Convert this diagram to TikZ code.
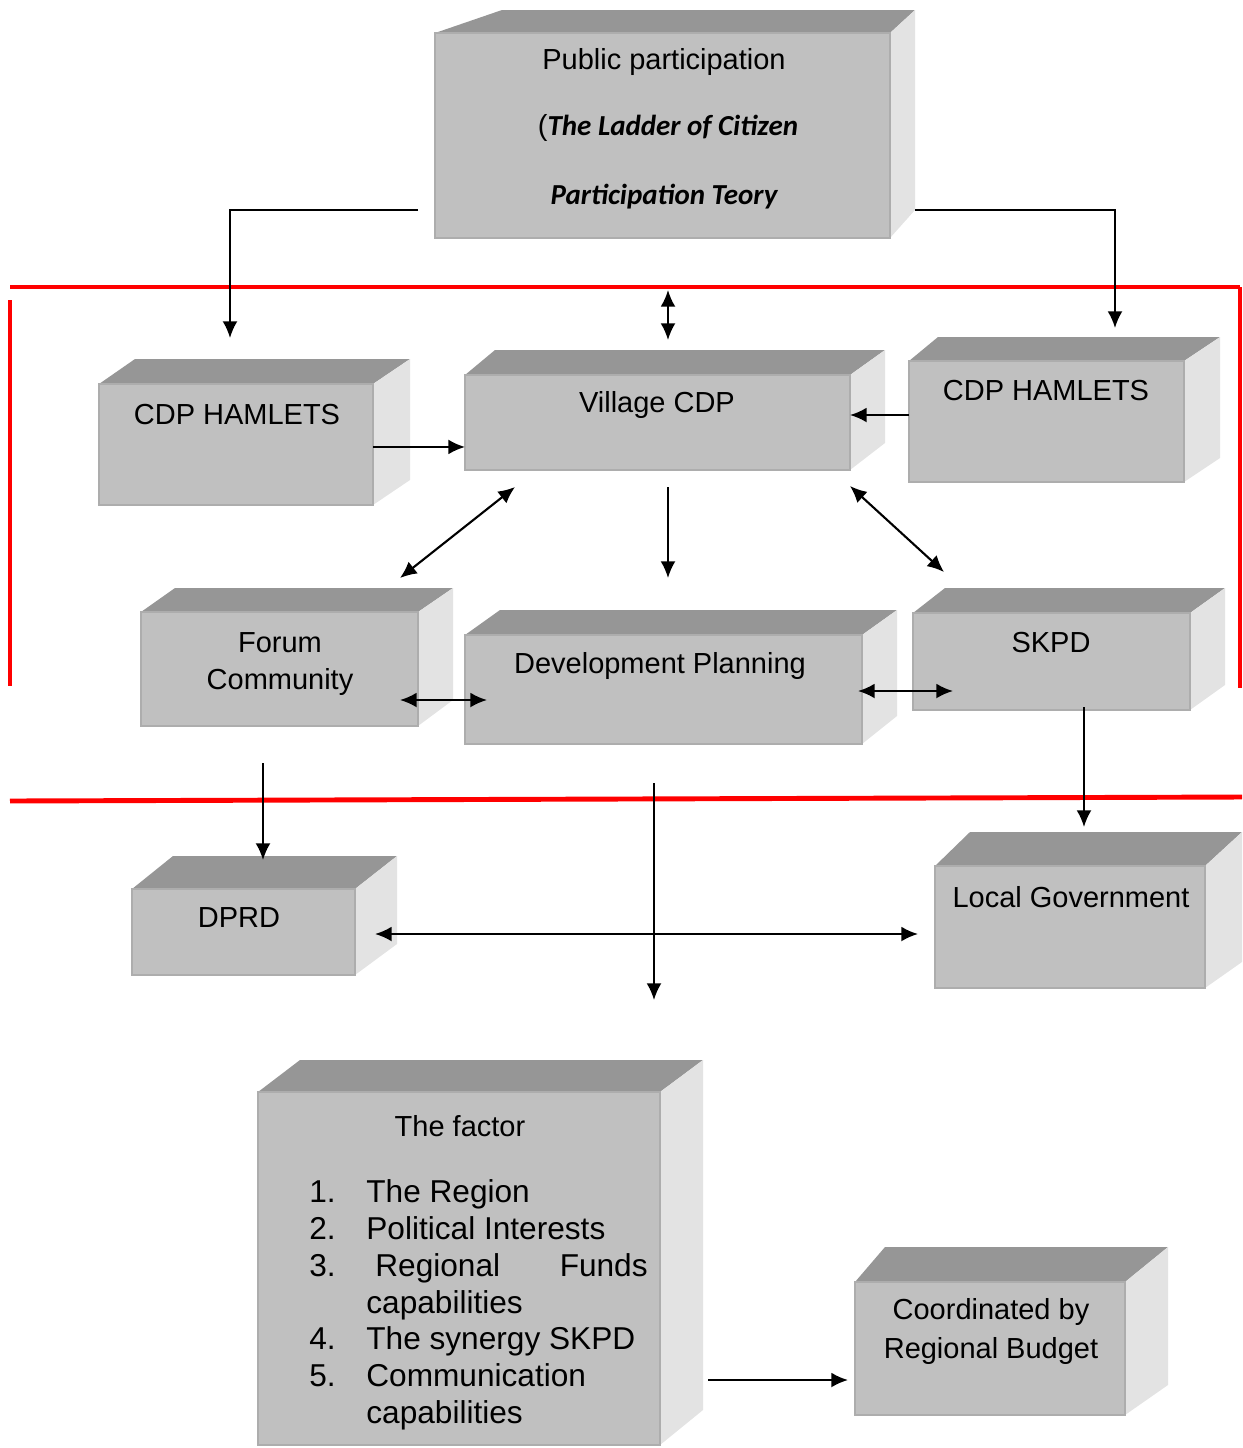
\documentclass[tikz,border=0pt]{standalone}
\usepackage{fontspec}
\setmainfont{Liberation Sans}
\newfontfamily\calibri{Carlito}
\usetikzlibrary{arrows.meta}

\definecolor{frontgray}{HTML}{C0C0C0}
\definecolor{topgray}{HTML}{969696}
\definecolor{sidegray}{HTML}{E3E3E3}
\definecolor{edgegray}{HTML}{ADADAD}
\definecolor{framered}{HTML}{FF0000}

\tikzset{
  front/.style={draw=edgegray, line width=0.6pt, fill=frontgray, inner sep=0pt, outer sep=0pt},
  topface/.style={fill=topgray},
  sideface/.style={fill=sidegray},
  lbl/.style={inner sep=0pt, font=\fontsize{16.5}{19}\selectfont},
  itm/.style={inner sep=0pt, anchor=base west, font=\fontsize{18}{21}\selectfont},
  arr/.style={line width=1.2pt, -{Latex[length=9.5pt,width=8.5pt]}},
  darr/.style={line width=1.2pt, {Latex[length=9.5pt,width=8.5pt]}-{Latex[length=9.5pt,width=8.5pt]}},
  redline/.style={draw=framered, line width=2.8pt}
}

% 3D box: name, front x1, y1, x2, y2, back left x, back right x, back top y, side bottom y
\newcommand{\cuboid}[9]{%
  \fill[topface] (#2,#3) -- (#6,#8) -- (#7,#8) -- (#4,#3) -- cycle;
  \fill[sideface] (#4,#3) -- (#7,#8) -- (#7,#9) -- (#4,#5) -- cycle;
  \node[front, anchor=north west, minimum width={(#4-#2)*0.02cm},
        minimum height={(#5-#3)*0.02cm}] (#1) at (#2,#3) {};
}

\begin{document}
\begin{tikzpicture}[x=0.02cm, y=-0.02cm]
\useasboundingbox (0,0) rectangle (1242,1448);

% boxes
\cuboid{pp}{435}{33}{890}{238}{502}{915}{10}{210}
\cuboid{hamL}{99}{384}{373}{505}{135}{410}{359}{480}
\cuboid{village}{465}{375}{850}{470}{495}{885}{350}{443}
\cuboid{hamR}{909}{361}{1184}{482}{938}{1220}{337}{458}
\cuboid{forum}{141}{612}{418}{726}{175}{453}{588}{700}
\cuboid{dev}{465}{635}{862}{744}{500}{897}{610}{716}
\cuboid{skpd}{913}{613}{1190}{710}{945}{1225}{588}{685}
\cuboid{dprd}{132}{889}{355}{975}{173}{397}{856}{944}
\cuboid{locgov}{935}{866}{1205}{988}{970}{1242}{832}{962}
\cuboid{factor}{258}{1092}{660}{1445}{300}{703}{1060}{1410}
\cuboid{budget}{855}{1282}{1125}{1415}{885}{1168}{1247}{1385}

% texts
\node[lbl] (ppA) at (664,62) {Public participation};
\node[lbl] (ppB) at (668,128) {(\calibri\bfseries\itshape The Ladder of Citizen};
\node[lbl] (ppC) at (664,197) {\calibri\bfseries\itshape Participation Teory};
\node[lbl] (hamLt) at (237,415) {CDP HAMLETS};
\node[lbl] (villaget) at (657,405) {Village CDP};
\node[lbl] (hamRt) at (1046,391) {CDP HAMLETS};
\node[lbl] (forumA) at (280,643) {Forum};
\node[lbl] (forumB) at (280,682) {Community};
\node[lbl] (devt) at (660,666) {Development Planning};
\node[lbl] (skpdt) at (1051,643) {SKPD};
\node[lbl] (dprdt) at (239,918) {DPRD};
\node[lbl] (locgovt) at (1071,897) {Local Government};
\node[lbl] (factort) at (460,1126) {The factor};
\node[lbl] (budgetA) at (991,1312) {Coordinated by};
\node[lbl] (budgetB) at (991,1351) {Regional Budget};

% factor list
\node[itm] (n1) at (309,1202) {1.};
\node[itm] (i1) at (366,1202) {The Region};
\node[itm] (n2) at (309,1239) {2.};
\node[itm] (i2) at (366,1239) {Political Interests};
\node[itm] (n3) at (309,1276) {3.};
\node[itm] (i3) at (375,1276) {Regional};
\node[itm, anchor=base east] (i3b) at (648,1276) {Funds};
\node[itm] (i3c) at (366,1313) {capabilities};
\node[itm] (n4) at (309,1349) {4.};
\node[itm] (i4) at (366,1349) {The synergy SKPD};
\node[itm] (n5) at (309,1386) {5.};
\node[itm] (i5) at (366,1386) {Communication};
\node[itm] (i5b) at (366,1423) {capabilities};

% red frame
\draw[redline] (10,287) -- (1240,287);
\draw[redline] (10,300) -- (10,686);
\draw[redline] (1240,287) -- (1240,688);
\draw[redline] (10,801) -- (1242,797);

% connector ends
\coordinate (ppL) at (418,210);
\coordinate (ppR) at (915,210);
\coordinate (hamLin) at (230,338);
\coordinate (hamRin) at (1115,328);
\coordinate (frameTop) at (668,290);
\coordinate (villageTop) at (668,340);
\coordinate (villageSW) at (515,487);
\coordinate (forumNE) at (400,578);
\coordinate (villageS) at (668,487);
\coordinate (devN) at (668,578);
\coordinate (villageSE) at (850,486);
\coordinate (skpdNW) at (944,572);
\coordinate (forumE) at (400,700);
\coordinate (devW) at (487,700);
\coordinate (devE) at (858,691);
\coordinate (skpdW) at (953,691);
\coordinate (forumS) at (263,763);
\coordinate (dprdN) at (263,860);
\coordinate (skpdS) at (1084,707);
\coordinate (locgovN) at (1084,827);
\coordinate (devS) at (654,783);
\coordinate (factorN) at (654,1000);
\coordinate (dprdE) at (375,934);
\coordinate (locgovW) at (918,934);
\coordinate (factorE) at (708,1380);
\coordinate (budgetW) at (848,1380);

% connectors
\draw[arr] (ppL) -| (hamLin);
\draw[arr] (ppR) -| (hamRin);
\draw[darr] (frameTop) -- (villageTop);
\draw[arr] ([yshift=-1.4pt]hamL.east) -- ([yshift=-1.4pt]hamL.east -| village.west);
\draw[arr] ([yshift=3.7pt]hamR.west) -- ([yshift=3.7pt]hamR.west -| village.east);
\draw[darr] (villageSW) -- (forumNE);
\draw[arr] (villageS) -- (devN);
\draw[darr] (villageSE) -- (skpdNW);
\draw[darr] (forumE) -- (devW);
\draw[darr] (devE) -- (skpdW);
\draw[arr] (forumS) -- (dprdN);
\draw[arr] (skpdS) -- (locgovN);
\draw[arr] (devS) -- (factorN);
\draw[darr] (dprdE) -- (locgovW);
\draw[arr] (factorE) -- (budgetW);
\end{tikzpicture}
\end{document}
